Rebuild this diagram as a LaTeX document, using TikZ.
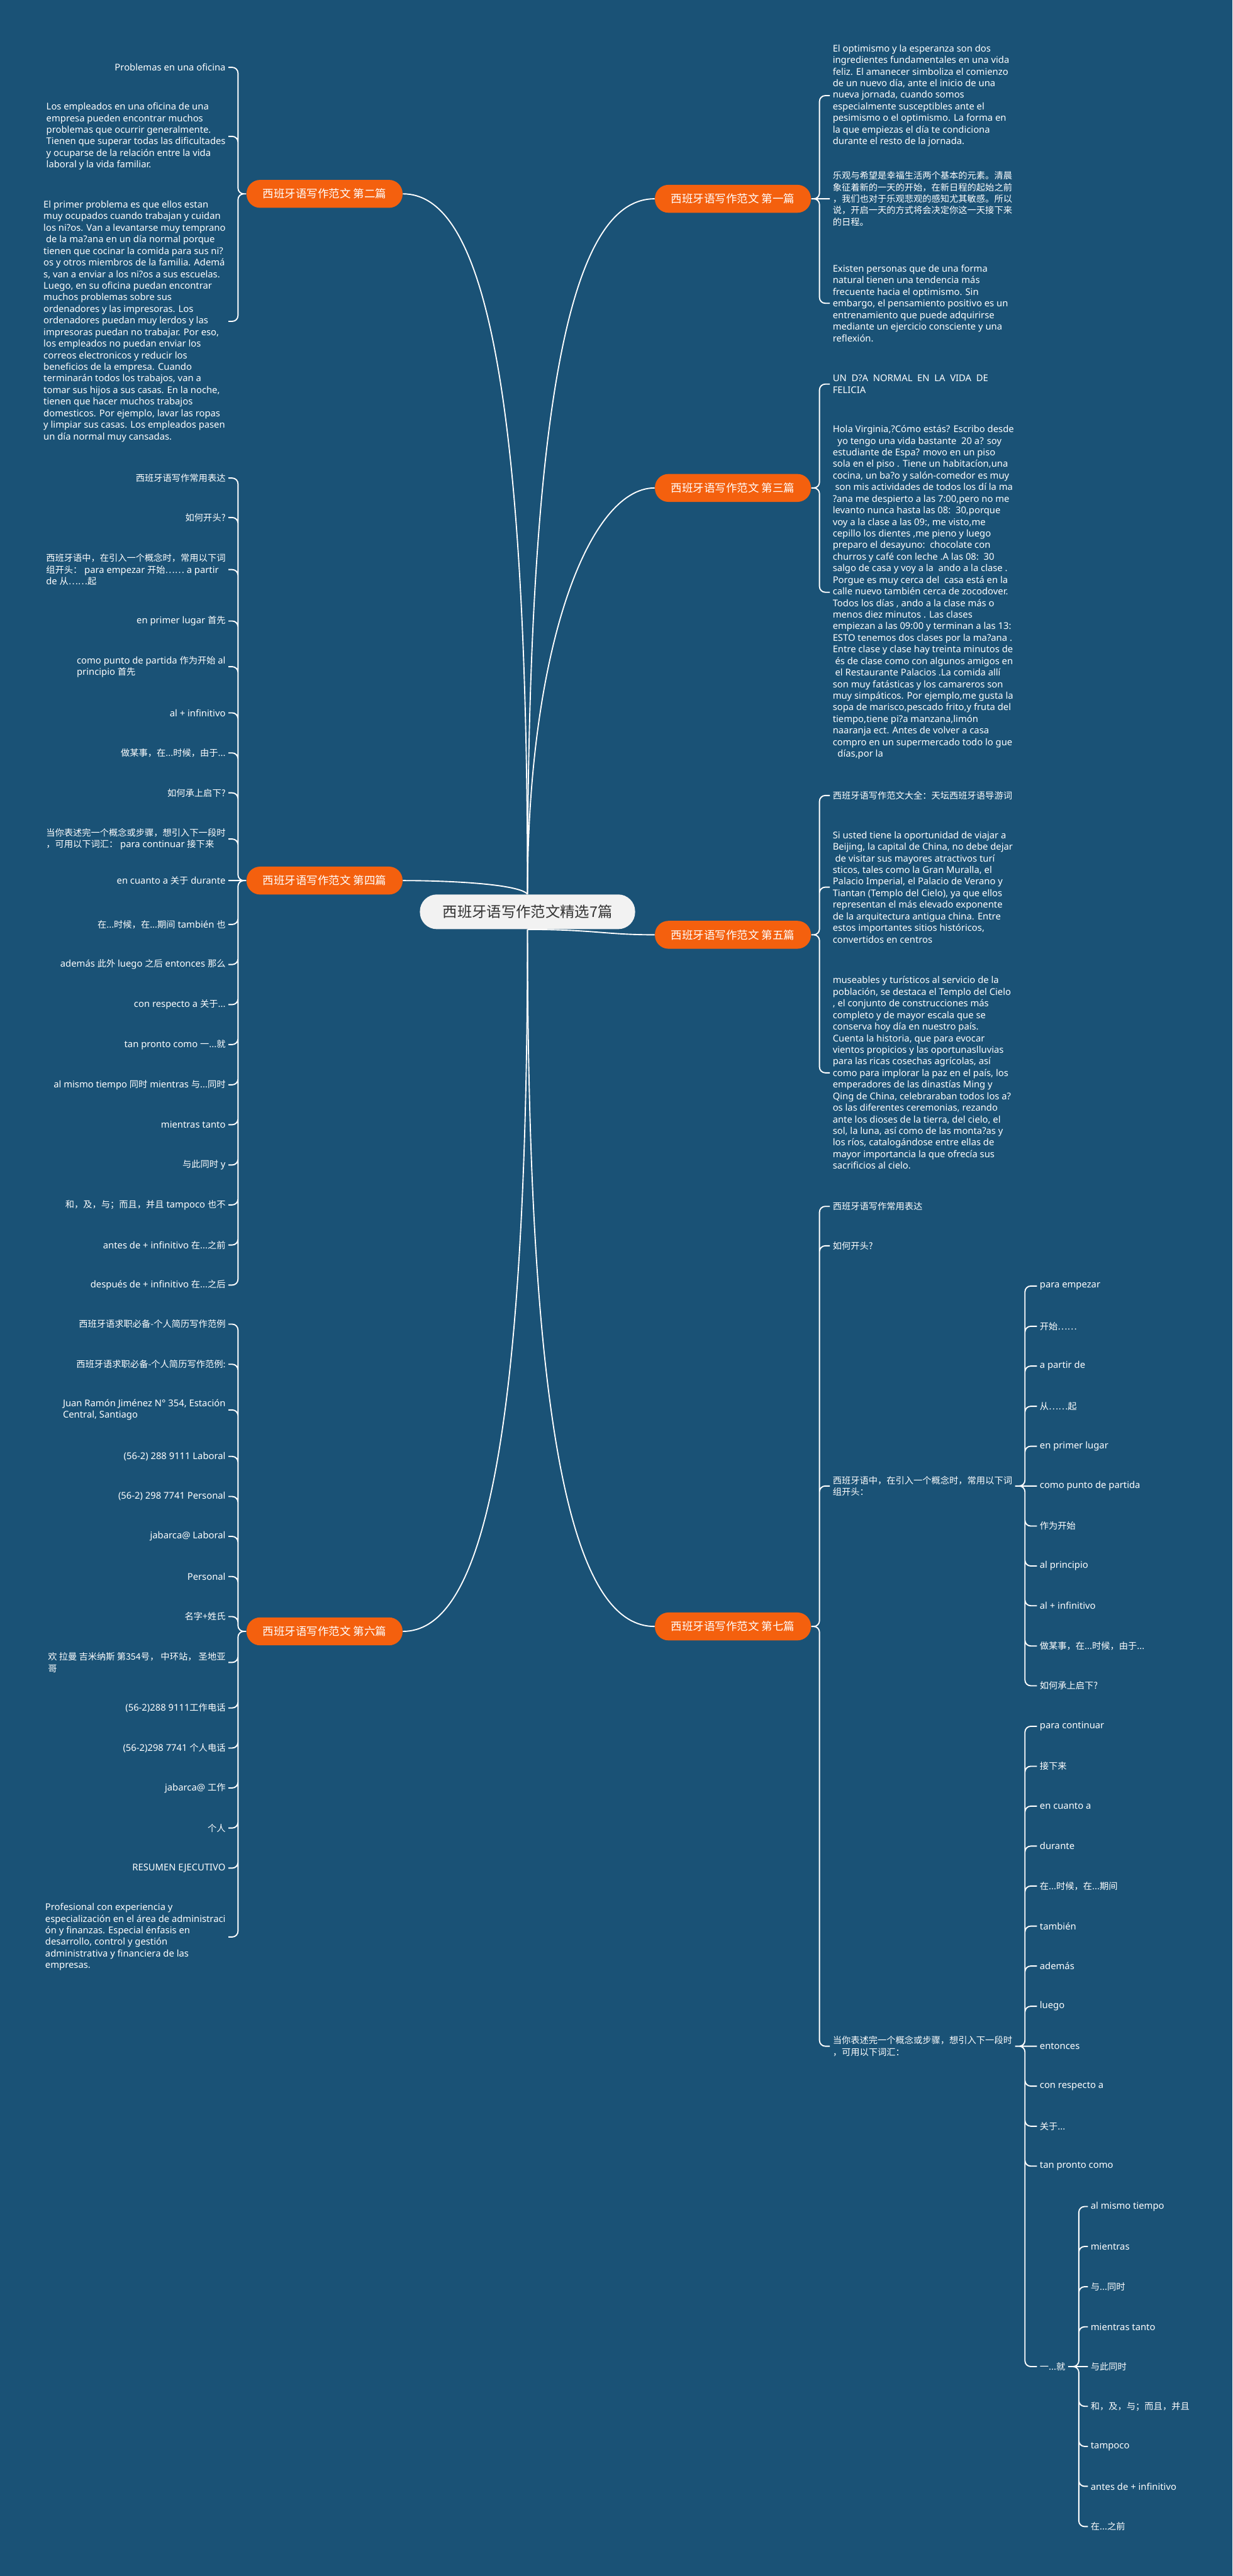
\documentclass[tikz,border=0pt]{standalone}
\usepackage{fontspec}
\setmainfont{Noto Sans}
\newfontfamily\zhfam[Scale=0.964]{Noto Sans CJK SC}
\newcommand{\zh}[1]{{\zhfam #1}}
\usetikzlibrary{calc}
\definecolor{sfondo}{RGB}{26,82,118}
\definecolor{arancio}{RGB}{244,96,14}
\definecolor{grigio}{RGB}{242,242,242}
\definecolor{testo}{RGB}{51,51,51}

\begin{document}
\begin{tikzpicture}[x=0.3413mm, y=0.3413mm,
  every node/.style={text=white},
  centro/.style={fill=grigio, text=testo, rounded corners=10pt, minimum width=44.7mm,
    minimum height=7.2mm, font=\zhfam\fontsize{9}{10}\selectfont},
  ramo/.style={fill=arancio, rounded corners=8pt, minimum width=32.4mm,
    minimum height=5.8mm, font=\zhfam\fontsize{6.75}{7.5}\selectfont},
  fsx/.style={anchor=east, align=left, inner sep=1.5pt, font=\fontsize{5.5}{6.85}\selectfont},
  fdx/.style={anchor=west, align=left, inner sep=1.5pt, font=\fontsize{5.5}{6.85}\selectfont},
  filo/.style={draw=white, line width=0.7pt}
]
  \fill[sfondo] (0,0) rectangle (750,-1568);

  % nodo centrale e rami
  \node[centro] (root) at (321,-555) {西班牙语写作范文精选7篇};
  \node[ramo] (p1) at (446,-121) {西班牙语写作范文 第一篇};
  \node[ramo] (p2) at (197.5,-118) {西班牙语写作范文 第二篇};
  \node[ramo] (p3) at (446,-297) {西班牙语写作范文 第三篇};
  \node[ramo] (p4) at (197.5,-536) {西班牙语写作范文 第四篇};
  \node[ramo] (p5) at (446,-569) {西班牙语写作范文 第五篇};
  \node[ramo] (p6) at (197.5,-993) {西班牙语写作范文 第六篇};
  \node[ramo] (p7) at (446,-990) {西班牙语写作范文 第七篇};

  \draw[filo] (root.north) .. controls ($(root.north)+(0,330)$) and ($(p2.east)+(45,0)$) .. (p2.east);
  \draw[filo] (root.north) .. controls ($(root.north)+(0,330)$) and ($(p1.west)+(-45,0)$) .. (p1.west);
  \draw[filo] (root.north) .. controls ($(root.north)+(0,150)$) and ($(p3.west)+(-40,0)$) .. (p3.west);
  \draw[filo] (root.north) .. controls ($(root.north)+(-5,6)$) and ($(p4.east)+(30,0)$) .. (p4.east);
  \draw[filo] (root.south) .. controls ($(root.south)+(40,0)$) and ($(p5.west)+(-30,0)$) .. (p5.west);
  \draw[filo] (root.south) .. controls ($(root.south)+(0,-330)$) and ($(p6.east)+(45,0)$) .. (p6.east);
  \draw[filo] (root.south) .. controls ($(root.south)+(0,-330)$) and ($(p7.west)+(-45,0)$) .. (p7.west);

  % primo
  \node[fdx] (p1a) at (505,-58.2) {El optimismo y la esperanza son dos\\
    ingredientes fundamentales en una vida\\
    feliz. El amanecer simboliza el comienzo\\
    de un nuevo día, ante el inicio de una\\
    nueva jornada, cuando somos\\
    especialmente susceptibles ante el\\
    pesimismo o el optimismo. La forma en\\
    la que empiezas el día te condiciona\\
    durante el resto de la jornada.};
  \node[fdx] (p1b) at (505,-121) {\zh{乐观与希望是幸福生活两个基本的元素。清晨}\\
    \zh{象征着新的一天的开始，在新日程的起始之前}\\
    \zh{，我们也对于乐观悲观的感知尤其敏感。所以}\\
    \zh{说，开启一天的方式将会决定你这一天接下来}\\
    \zh{的日程。}};
  \node[fdx] (p1c) at (505,-184.6) {Existen personas que de una forma\\
    natural tienen una tendencia más\\
    frecuente hacia el optimismo. Sin\\
    embargo, el pensamiento positivo es un\\
    entrenamiento que puede adquirirse\\
    mediante un ejercicio consciente y una\\
    reflexión.};
  \draw[filo, rounded corners=1.2mm]
    (p1.east) -- ++(5,0) |- (p1a.west)
    (p1.east) -- (p1b.west)
    (p1.east) -- ++(5,0) |- (p1c.west);

  % secondo
  \node[fsx] (p2a) at (139,-41) {Problemas en una oficina};
  \node[fsx] (p2b) at (139,-83) {Los empleados en una oficina de una\\
    empresa pueden encontrar muchos\\
    problemas que ocurrir generalmente.\\
    Tienen que superar todas las dificultades\\
    y ocuparse de la relación entre la vida\\
    laboral y la vida familiar.};
  \node[fsx] (p2c) at (139,-195.6) {El primer problema es que ellos estan\\
    muy ocupados cuando trabajan y cuidan\\
    los ni?os. Van a levantarse muy temprano\\
    ~de la ma?ana en un día normal porque\\
    tienen que cocinar la comida para sus ni?\\
    os y otros miembros de la familia. Ademá\\
    s, van a enviar a los ni?os a sus escuelas.\\
    Luego, en su oficina puedan encontrar\\
    muchos problemas sobre sus\\
    ordenadores y las impresoras. Los\\
    ordenadores puedan muy lerdos y las\\
    impresoras puedan no trabajar. Por eso,\\
    los empleados no puedan enviar los\\
    correos electronicos y reducir los\\
    beneficios de la empresa. Cuando\\
    terminarán todos los trabajos, van a\\
    tomar sus hijos a sus casas. En la noche,\\
    tienen que hacer muchos trabajos\\
    domesticos. Por ejemplo, lavar las ropas\\
    y limpiar sus casas. Los empleados pasen\\
    un día normal muy cansadas.};
  \draw[filo, rounded corners=1.2mm]
    (p2.west) -- ++(-5,0) |- (p2a.east)
    (p2.west) -- ++(-5,0) |- (p2b.east)
    (p2.west) -- ++(-5,0) |- (p2c.east);

  % terzo
  \node[fdx] (p3a) at (505,-233.8) {UN\ \ D?A\ \ NORMAL\ \ EN\ \ LA\ \ VIDA\ \ DE\\FELICIA};
  \node[fdx] (p3b) at (505,-360.5) {Hola Virginia,?Cómo estás? Escribo desde\\
    ~~yo tengo una vida bastante\ \ 20 a? soy\\
    estudiante de Espa? movo en un piso\\
    sola en el piso . Tiene un habitacíon,una\\
    cocina, un ba?o y salón-comedor es muy\\
    ~son mis actividades de todos los dí la ma\\
    ?ana me despierto a las 7:00,pero no me\\
    levanto nunca hasta las 08:\ \ 30,porque\\
    voy a la clase a las 09:, me visto,me\\
    cepillo los dientes ,me pieno y luego\\
    preparo el desayuno:\ \ chocolate con\\
    churros y café con leche .A las 08:\ \ 30\\
    salgo de casa y voy a la\ \ ando a la clase .\\
    Porgue es muy cerca del\ \ casa está en la\\
    calle nuevo también cerca de zocodover.\\
    Todos los días , ando a la clase más o\\
    menos diez minutos . Las clases\\
    empiezan a las 09:00 y terminan a las 13:\\
    ESTO tenemos dos clases por la ma?ana .\\
    Entre clase y clase hay treinta minutos de\\
    ~és de clase como con algunos amigos en\\
    ~el Restaurante Palacios .La comida allí\\
    son muy fatásticas y los camareros son\\
    muy simpáticos. Por ejemplo,me gusta la\\
    sopa de marisco,pescado frito,y fruta del\\
    tiempo,tiene pi?a manzana,limón\\
    naaranja ect. Antes de volver a casa\\
    compro en un supermercado todo lo gue\\
    ~~días,por la};
  \draw[filo, rounded corners=1.2mm]
    (p3.east) -- ++(5,0) |- (p3a.west)
    (p3.east) -- ++(5,0) |- (p3b.west);

  % quarto
  \node[fsx] (p4a) at (139,-291) {\zh{西班牙语写作常用表达}};
  \node[fsx] (p4b) at (139,-315) {\zh{如何开头?}};
  \node[fsx] (p4c) at (139,-346.7) {\zh{西班牙语中，在引入一个概念时，常用以下词}\\
    \zh{组开头：} para empezar \zh{开始……} a partir\\
    de \zh{从……起}};
  \node[fsx] (p4d) at (139,-378) {en primer lugar \zh{首先}};
  \node[fsx] (p4e) at (139,-405.8) {como punto de partida \zh{作为开始} al\\principio \zh{首先}};
  \node[fsx] (p4f) at (139,-433.9) {al + infinitivo};
  \node[fsx] (p4g) at (139,-458.3) {\zh{做某事，在...时候，由于...}};
  \node[fsx] (p4h) at (139,-482.6) {\zh{如何承上启下?}};
  \node[fsx] (p4i) at (139,-510.7) {\zh{当你表述完一个概念或步骤，想引入下一段时}\\
    \zh{，可用以下词汇：} para continuar \zh{接下来}};
  \node[fsx] (p4j) at (139,-536) {en cuanto a \zh{关于} durante};
  \node[fsx] (p4k) at (139,-562.7) {\zh{在...时候，在...期间} también \zh{也}};
  \node[fsx] (p4l) at (139,-587.1) {además \zh{此外} luego \zh{之后} entonces \zh{那么}};
  \node[fsx] (p4m) at (139,-611.5) {con respecto a \zh{关于...}};
  \node[fsx] (p4n) at (139,-635.8) {tan pronto como \zh{一...就}};
  \node[fsx] (p4o) at (139,-660.3) {al mismo tiempo \zh{同时} mientras \zh{与...同时}};
  \node[fsx] (p4p) at (139,-684.6) {mientras tanto};
  \node[fsx] (p4q) at (139,-709.1) {\zh{与此同时} y};
  \node[fsx] (p4r) at (139,-733.4) {\zh{和，及，与；而且，并且} tampoco \zh{也不}};
  \node[fsx] (p4s) at (139,-757.8) {antes de + infinitivo \zh{在...之前}};
  \node[fsx] (p4t) at (139,-782.2) {después de + infinitivo \zh{在...之后}};
  \draw[filo, rounded corners=1.2mm]
    (p4.west) -- ++(-5,0) |- (p4a.east)
    (p4.west) -- ++(-5,0) |- (p4b.east)
    (p4.west) -- ++(-5,0) |- (p4c.east)
    (p4.west) -- ++(-5,0) |- (p4d.east)
    (p4.west) -- ++(-5,0) |- (p4e.east)
    (p4.west) -- ++(-5,0) |- (p4f.east)
    (p4.west) -- ++(-5,0) |- (p4g.east)
    (p4.west) -- ++(-5,0) |- (p4h.east)
    (p4.west) -- ++(-5,0) |- (p4i.east)
    (p4.west) -- (p4j.east)
    (p4.west) -- ++(-5,0) |- (p4k.east)
    (p4.west) -- ++(-5,0) |- (p4l.east)
    (p4.west) -- ++(-5,0) |- (p4m.east)
    (p4.west) -- ++(-5,0) |- (p4n.east)
    (p4.west) -- ++(-5,0) |- (p4o.east)
    (p4.west) -- ++(-5,0) |- (p4p.east)
    (p4.west) -- ++(-5,0) |- (p4q.east)
    (p4.west) -- ++(-5,0) |- (p4r.east)
    (p4.west) -- ++(-5,0) |- (p4s.east)
    (p4.west) -- ++(-5,0) |- (p4t.east);

  % quinto
  \node[fdx] (p5a) at (505,-484.2) {\zh{西班牙语写作范文大全：天坛西班牙语导游词}};
  \node[fdx] (p5b) at (505,-540) {Si usted tiene la oportunidad de viajar a\\
    Beijing, la capital de China, no debe dejar\\
    ~de visitar sus mayores atractivos turí\\
    sticos, tales como la Gran Muralla, el\\
    Palacio Imperial, el Palacio de Verano y\\
    Tiantan (Templo del Cielo), ya que ellos\\
    representan el más elevado exponente\\
    de la arquitectura antigua china. Entre\\
    estos importantes sitios históricos,\\
    convertidos en centros};
  \node[fdx] (p5c) at (505,-653) {museables y turísticos al servicio de la\\
    población, se destaca el Templo del Cielo\\
    , el conjunto de construcciones más\\
    completo y de mayor escala que se\\
    conserva hoy día en nuestro país.\\
    Cuenta la historia, que para evocar\\
    vientos propicios y las oportunaslluvias\\
    para las ricas cosechas agrícolas, así\\
    como para implorar la paz en el país, los\\
    emperadores de las dinastías Ming y\\
    Qing de China, celebraraban todos los a?\\
    os las diferentes ceremonias, rezando\\
    ante los dioses de la tierra, del cielo, el\\
    sol, la luna, así como de las monta?as y\\
    los ríos, catalogándose entre ellas de\\
    mayor importancia la que ofrecía sus\\
    sacrificios al cielo.};
  \draw[filo, rounded corners=1.2mm]
    (p5.east) -- ++(5,0) |- (p5a.west)
    (p5.east) -- ++(5,0) |- (p5b.west)
    (p5.east) -- ++(5,0) |- (p5c.west);

  % sesto
  \node[fsx] (p6a) at (139,-806) {\zh{西班牙语求职必备-个人简历写作范例}};
  \node[fsx] (p6b) at (139,-830.4) {\zh{西班牙语求职必备-个人简历写作范例:}};
  \node[fsx] (p6c) at (139,-858.2) {Juan Ramón Jiménez N° 354, Estación\\Central, Santiago};
  \node[fsx] (p6d) at (139,-886.5) {(56-2) 288 9111 Laboral};
  \node[fsx] (p6e) at (139,-910.9) {(56-2) 298 7741 Personal};
  \node[fsx] (p6f) at (139,-935.2) {jabarca@ Laboral};
  \node[fsx] (p6g) at (139,-959.6) {Personal};
  \node[fsx] (p6h) at (139,-984) {\zh{名字+姓氏}};
  \node[fsx] (p6i) at (139,-1011.9) {\zh{欢 拉曼 吉米纳斯 第354号， 中环站， 圣地亚}\\\zh{哥}};
  \node[fsx] (p6j) at (139,-1039.6) {(56-2)288 9111\zh{工作电话}};
  \node[fsx] (p6k) at (139,-1064) {(56-2)298 7741 \zh{个人电话}};
  \node[fsx] (p6l) at (139,-1088.3) {jabarca@ \zh{工作}};
  \node[fsx] (p6m) at (139,-1112.7) {\zh{个人}};
  \node[fsx] (p6n) at (139,-1137.1) {RESUMEN EJECUTIVO};
  \node[fsx] (p6o) at (139,-1179) {Profesional con experiencia y\\
    especialización en el área de administraci\\
    ón y finanzas. Especial énfasis en\\
    desarrollo, control y gestión\\
    administrativa y financiera de las\\
    empresas.};
  \draw[filo, rounded corners=1.2mm]
    (p6.west) -- ++(-5,0) |- (p6a.east)
    (p6.west) -- ++(-5,0) |- (p6b.east)
    (p6.west) -- ++(-5,0) |- (p6c.east)
    (p6.west) -- ++(-5,0) |- (p6d.east)
    (p6.west) -- ++(-5,0) |- (p6e.east)
    (p6.west) -- ++(-5,0) |- (p6f.east)
    (p6.west) -- ++(-5,0) |- (p6g.east)
    (p6.west) -- ++(-5,0) |- (p6h.east)
    (p6.west) -- ++(-5,0) |- (p6i.east)
    (p6.west) -- ++(-5,0) |- (p6j.east)
    (p6.west) -- ++(-5,0) |- (p6k.east)
    (p6.west) -- ++(-5,0) |- (p6l.east)
    (p6.west) -- ++(-5,0) |- (p6m.east)
    (p6.west) -- ++(-5,0) |- (p6n.east)
    (p6.west) -- ++(-5,0) |- (p6o.east);

  % settimo
  \node[fdx] (p7a) at (505,-734.3) {\zh{西班牙语写作常用表达}};
  \node[fdx] (p7b) at (505,-758.3) {\zh{如何开头?}};
  \node[fdx] (p7c) at (505,-904.5) {\zh{西班牙语中，在引入一个概念时，常用以下词}\\\zh{组开头：}};
  \node[fdx] (p7d) at (505,-1245.5) {\zh{当你表述完一个概念或步骤，想引入下一段时}\\\zh{，可用以下词汇：}};
  \draw[filo, rounded corners=1.2mm]
    (p7.east) -- ++(5,0) |- (p7a.west)
    (p7.east) -- ++(5,0) |- (p7b.west)
    (p7.east) -- ++(5,0) |- (p7c.west)
    (p7.east) -- ++(5,0) |- (p7d.west);

  \node[fdx] (p7ca) at (631,-782.8) {para empezar};
  \node[fdx] (p7cb) at (631,-807.3) {\zh{开始……}};
  \node[fdx] (p7cc) at (631,-831.5) {a partir de};
  \node[fdx] (p7cd) at (631,-856) {\zh{从……起}};
  \node[fdx] (p7ce) at (631,-880.3) {en primer lugar};
  \node[fdx] (p7cf) at (631,-904.5) {como punto de partida};
  \node[fdx] (p7cg) at (631,-928.9) {\zh{作为开始}};
  \node[fdx] (p7ch) at (631,-953.2) {al principio};
  \node[fdx] (p7ci) at (631,-977.4) {al + infinitivo};
  \node[fdx] (p7cj) at (631,-1001.9) {\zh{做某事，在...时候，由于...}};
  \node[fdx] (p7ck) at (631,-1026.1) {\zh{如何承上启下?}};
  \draw[filo, rounded corners=1.2mm]
    (p7c.east) -- ++(6,0) |- (p7ca.west)
    (p7c.east) -- ++(6,0) |- (p7cb.west)
    (p7c.east) -- ++(6,0) |- (p7cc.west)
    (p7c.east) -- ++(6,0) |- (p7cd.west)
    (p7c.east) -- ++(6,0) |- (p7ce.west)
    (p7c.east) -- (p7cf.west)
    (p7c.east) -- ++(6,0) |- (p7cg.west)
    (p7c.east) -- ++(6,0) |- (p7ch.west)
    (p7c.east) -- ++(6,0) |- (p7ci.west)
    (p7c.east) -- ++(6,0) |- (p7cj.west)
    (p7c.east) -- ++(6,0) |- (p7ck.west);

  \node[fdx] (p7da) at (631,-1050.8) {para continuar};
  \node[fdx] (p7db) at (631,-1075.1) {\zh{接下来}};
  \node[fdx] (p7dc) at (631,-1099.4) {en cuanto a};
  \node[fdx] (p7dd) at (631,-1123.7) {durante};
  \node[fdx] (p7de) at (631,-1148) {\zh{在...时候，在...期间}};
  \node[fdx] (p7df) at (631,-1172.4) {también};
  \node[fdx] (p7dg) at (631,-1196.7) {además};
  \node[fdx] (p7dh) at (631,-1221.2) {luego};
  \node[fdx] (p7di) at (631,-1245.5) {entonces};
  \node[fdx] (p7dj) at (631,-1269.8) {con respecto a};
  \node[fdx] (p7dk) at (631,-1294.2) {\zh{关于...}};
  \node[fdx] (p7dl) at (631,-1318.5) {tan pronto como};
  \node[fdx] (p7dm) at (631,-1440.5) {\zh{一...就}};
  \draw[filo, rounded corners=1.2mm]
    (p7d.east) -- ++(6,0) |- (p7da.west)
    (p7d.east) -- ++(6,0) |- (p7db.west)
    (p7d.east) -- ++(6,0) |- (p7dc.west)
    (p7d.east) -- ++(6,0) |- (p7dd.west)
    (p7d.east) -- ++(6,0) |- (p7de.west)
    (p7d.east) -- ++(6,0) |- (p7df.west)
    (p7d.east) -- ++(6,0) |- (p7dg.west)
    (p7d.east) -- ++(6,0) |- (p7dh.west)
    (p7d.east) -- (p7di.west)
    (p7d.east) -- ++(6,0) |- (p7dj.west)
    (p7d.east) -- ++(6,0) |- (p7dk.west)
    (p7d.east) -- ++(6,0) |- (p7dl.west)
    (p7d.east) -- ++(6,0) |- (p7dm.west);

  \node[fdx] (p7dma) at (662,-1343.1) {al mismo tiempo};
  \node[fdx] (p7dmb) at (662,-1367.4) {mientras};
  \node[fdx] (p7dmc) at (662,-1391.9) {\zh{与...同时}};
  \node[fdx] (p7dmd) at (662,-1416.3) {mientras tanto};
  \node[fdx] (p7dme) at (662,-1440.5) {\zh{与此同时}};
  \node[fdx] (p7dmf) at (662,-1464.7) {\zh{和，及，与；而且，并且}};
  \node[fdx] (p7dmg) at (662,-1489.1) {tampoco};
  \node[fdx] (p7dmh) at (662,-1513.4) {antes de + infinitivo};
  \node[fdx] (p7dmi) at (662,-1537.9) {\zh{在...之前}};
  \draw[filo, rounded corners=1.2mm]
    (p7dm.east) -- ++(6.5,0) |- (p7dma.west)
    (p7dm.east) -- ++(6.5,0) |- (p7dmb.west)
    (p7dm.east) -- ++(6.5,0) |- (p7dmc.west)
    (p7dm.east) -- ++(6.5,0) |- (p7dmd.west)
    (p7dm.east) -- (p7dme.west)
    (p7dm.east) -- ++(6.5,0) |- (p7dmf.west)
    (p7dm.east) -- ++(6.5,0) |- (p7dmg.west)
    (p7dm.east) -- ++(6.5,0) |- (p7dmh.west)
    (p7dm.east) -- ++(6.5,0) |- (p7dmi.west);
\end{tikzpicture}
\end{document}
